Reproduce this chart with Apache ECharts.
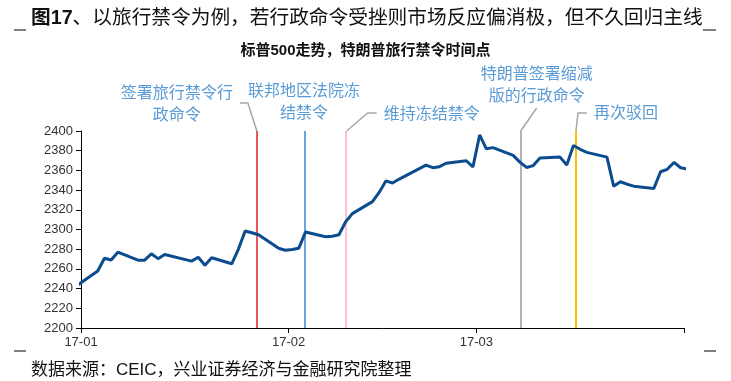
<!DOCTYPE html>
<html><head><meta charset="utf-8">
<script src="https://cdn.jsdelivr.net/npm/echarts@6/dist/echarts.min.js"></script>
<style>html,body{margin:0;padding:0;background:#fff}#c{width:731px;height:381px}</style>
</head><body><div id="c"></div>
<script>
// ---- data ----
const dates = ['2016-12-30','2017-01-03','2017-01-04','2017-01-05','2017-01-06','2017-01-09','2017-01-10','2017-01-11','2017-01-12','2017-01-13',
  '2017-01-17','2017-01-18','2017-01-19','2017-01-20','2017-01-23','2017-01-24','2017-01-25','2017-01-26','2017-01-27','2017-01-30','2017-01-31',
  '2017-02-01','2017-02-02','2017-02-03','2017-02-06','2017-02-07','2017-02-08','2017-02-09','2017-02-10','2017-02-13','2017-02-14','2017-02-15',
  '2017-02-16','2017-02-17','2017-02-21','2017-02-22','2017-02-23','2017-02-24','2017-02-27','2017-02-28',
  '2017-03-01','2017-03-02','2017-03-03','2017-03-06','2017-03-07','2017-03-08','2017-03-09','2017-03-10','2017-03-13','2017-03-14','2017-03-15',
  '2017-03-16','2017-03-17','2017-03-20','2017-03-21','2017-03-22','2017-03-23','2017-03-24','2017-03-27','2017-03-28','2017-03-29','2017-03-30',
  '2017-03-31','2017-04-03'];
const spx = [2238.8,2257.8,2270.8,2269.0,2277.0,2268.9,2268.9,2275.3,2270.4,2274.6,
  2267.9,2271.9,2263.7,2271.3,2265.2,2280.1,2298.4,2296.7,2294.7,2280.9,2278.9,
  2279.6,2280.9,2297.4,2292.6,2293.1,2294.7,2307.9,2316.1,2328.3,2337.6,2349.3,
  2347.2,2351.2,2365.4,2362.8,2363.8,2367.3,2369.8,2363.6,
  2396.0,2381.9,2383.1,2375.3,2368.4,2363.0,2364.9,2372.6,2373.5,2365.5,2385.3,
  2381.4,2378.3,2373.5,2344.0,2348.5,2346.0,2344.0,2341.6,2358.6,2361.1,2368.1,
  2362.7,2358.8];
const xTickLabels = ['17-01','17-02','17-03',''];
const yMin = 2200, yMax = 2400, yStep = 20;
const eventTimes = ['2017-01-27 06:00','2017-02-03 10:00','2017-02-09 12:00','2017-03-07 15:00','2017-03-15 21:00'];
const eventLabels = ['签署旅行禁令行\n政命令','联邦地区法院冻\n结禁令','维持冻结禁令','特朗普签署缩减\n版的行政命令','再次驳回'];

// ---- styles / layout ----
const eventColors = ['#E8595C','#6AA5E0','#FFC0CB','#B3B3B3','#FFC000'];
const annot = [
  {leader:[[0,0],[-9,-28],[-17,-28]], tx:-80, ty:-28, align:'center'},
  {leader:null, tx:-1, ty:-30, align:'center'},
  {leader:[[1,0],[22,-18],[31,-18]], tx:38, ty:-18, align:'left'},
  {leader:[[0,0],[16,-23]], tx:16, ty:-47, align:'center'},
  {leader:[[0,0],[2,-18],[11,-18]], tx:18, ty:-19, align:'left'}
];
const CJK = "'Noto Sans CJK SC', sans-serif";
const LAT = "'Liberation Sans', 'Noto Sans CJK SC', sans-serif";

function parseT(s){
  const m = s.match(/(\d+)-(\d+)-(\d+)(?:\s+(\d+):(\d+))?/);
  return new Date(+m[1], +m[2]-1, +m[3], m[4]?+m[4]:0, m[5]?+m[5]:0).getTime();
}
const lineData = dates.map((d,i)=>[parseT(d+' 12:00'), spx[i]]);
const evT = eventTimes.map(parseT);

const chart = echarts.init(document.getElementById('c'), null, {renderer:'canvas'});
const DAY = 86400000;
chart.setOption({
  animation:false,
  backgroundColor:'#fff',
  title:[
    {text:'{b|图17}、以旅行禁令为例，若行政命令受挫则市场反应偏消极，但不久回归主线', left:26, top:4,
      textStyle:{fontFamily:LAT, fontSize:19.7, fontWeight:'normal', color:'#111',
        rich:{b:{fontFamily:LAT, fontSize:19.7, fontWeight:'bold', color:'#111'}}}},
    {text:'标普500走势，特朗普旅行禁令时间点', left:'center', top:38,
      textStyle:{fontFamily:LAT, fontSize:15, fontWeight:'bold', color:'#111'}},
    {text:'数据来源：CEIC，兴业证券经济与金融研究院整理', left:26, top:357,
      textStyle:{fontFamily:LAT, fontSize:17, fontWeight:'normal', color:'#111'}}
  ],
  grid:{left:81, right:47, top:131, bottom:53, containLabel:false},
  xAxis:{type:'time', min:parseT('2017-01-01'), max:parseT('2017-04-01'),
    minInterval:28*DAY, maxInterval:31*DAY,
    axisLine:{show:true, lineStyle:{color:'#000', width:1}},
    axisTick:{show:true, length:5, lineStyle:{color:'#000'}},
    splitLine:{show:false}, minorTick:{show:false},
    axisLabel:{fontFamily:LAT, fontSize:13, color:'#333', margin:8, showMinLabel:true, showMaxLabel:true,
      formatter:function(v){ const d=new Date(v); const idx = d.getMonth(); return xTickLabels[idx] !== undefined ? xTickLabels[idx] : ''; }}
  },
  yAxis:{type:'value', min:yMin, max:yMax, interval:yStep,
    axisLine:{show:true, lineStyle:{color:'#000', width:1}},
    axisTick:{show:true, length:5, lineStyle:{color:'#000'}},
    splitLine:{show:false},
    axisLabel:{fontFamily:LAT, fontSize:13, color:'#333', margin:8, formatter:function(v){return String(v);}}
  },
  series:[{
    type:'line', data:lineData, showSymbol:false, symbol:'none', clip:true,
    lineStyle:{color:'#0B4C8E', width:3},
    z:3,
    markLine:{silent:true, symbol:'none', label:{show:false}, z:2,
      data: evT.map((t,i)=>({xAxis:t, lineStyle:{color:eventColors[i], width:2, type:'solid'}}))
    }
  }]
});

// annotations positioned from the chart scale
const g = [];
evT.forEach((t,i)=>{
  const p = chart.convertToPixel({gridIndex:0}, [t, yMax]);
  const a = annot[i];
  if (a.leader) {
    g.push({type:'polyline', shape:{points:a.leader.map(q=>[p[0]+q[0], p[1]+q[1]])},
      style:{stroke:'#A6A6A6', lineWidth:1.5, fill:null}, z:10});
  }
  g.push({type:'text', x:p[0]+a.tx, y:p[1]+a.ty,
    style:{text:eventLabels[i], fill:'#5B9BD5', font:"16px "+CJK, align:a.align, verticalAlign:'middle', lineHeight:22}, z:10});
});
// decorative frame ends
[[14,30,26,30],[703,30,716,30],[14,351,26,351],[704,351,716,351]].forEach(s=>{
  g.push({type:'line', shape:{x1:s[0],y1:s[1],x2:s[2],y2:s[3]}, style:{stroke:'#000', lineWidth:1}});
});
chart.setOption({graphic:g});
</script></body></html>
